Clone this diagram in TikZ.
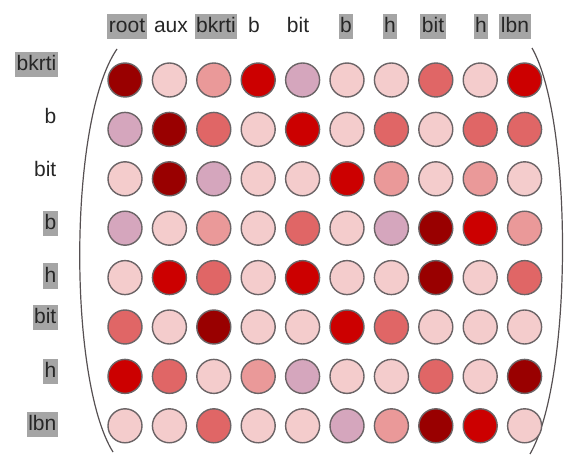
\documentclass[tikz,border=0pt]{standalone}
\usepackage{fontspec}
\setmainfont{Liberation Sans}

\definecolor{dk}{HTML}{990000}
\definecolor{rd}{HTML}{CC0000}
\definecolor{md}{HTML}{E06666}
\definecolor{pk}{HTML}{EA9999}
\definecolor{lt}{HTML}{F4CCCC}
\definecolor{vi}{HTML}{D5A6BD}
\definecolor{hlgray}{HTML}{A5A5A5}
\definecolor{dotline}{HTML}{6B6466}

\begin{document}
\begin{tikzpicture}
  [x=1pt,y=-1pt,
   dot/.style={circle,draw=dotline,line width=1.4pt,minimum size=34pt,inner sep=0pt},
   lab/.style={font=\fontsize{21}{25}\selectfont,text=black!85,inner sep=1.5pt,text height=17pt,text depth=5pt},
   hl/.style={lab,fill=hlgray}]

  \useasboundingbox (0,0) rectangle (565,457);

  % column labels
  \node[hl]  (col1)  at (127,26.5) {root};
  \node[lab] (col2)  at (171,26.5) {aux};
  \node[hl]  (col3)  at (216,26.5) {bkrti};
  \node[lab] (col4)  at (254,26.5) {b};
  \node[lab] (col5)  at (298,26.5) {bit};
  \node[hl]  (col6)  at (346,26.5) {b};
  \node[hl]  (col7)  at (390,26.5) {h};
  \node[hl]  (col8)  at (433,26.5) {bit};
  \node[hl]  (col9)  at (481,26.5) {h};
  \node[hl]  (col10) at (515,26.5) {lbn};

  % row labels
  \node[hl,anchor=east]  (row1) at (58,65)  {bkrti};
  \node[lab,anchor=east] (row2) at (58,118) {b};
  \node[lab,anchor=east] (row3) at (58,171) {bit};
  \node[hl,anchor=east]  (row4) at (58,224) {b};
  \node[hl,anchor=east]  (row5) at (58,276) {h};
  \node[hl,anchor=east]  (row6) at (58,317) {bit};
  \node[hl,anchor=east]  (row7) at (58,371) {h};
  \node[hl,anchor=east]  (row8) at (58,424) {lbn};

  % brackets
  \draw[dotline!80!black,line width=1.2pt] (117,49) .. controls (68,120) and (68,380) .. (113,452);
  \draw[dotline!80!black,line width=1.2pt] (532,48) .. controls (573,120) and (573,380) .. (530,454);

  % matrix
  \foreach \cols [count=\r] in {
      {dk,lt,pk,rd,vi,lt,lt,md,lt,rd},
      {vi,dk,md,lt,rd,lt,md,lt,md,md},
      {lt,dk,vi,lt,lt,rd,pk,lt,pk,lt},
      {vi,lt,pk,lt,md,lt,vi,dk,rd,pk},
      {lt,rd,md,lt,rd,lt,lt,dk,lt,md},
      {md,lt,dk,lt,lt,rd,md,lt,lt,lt},
      {rd,md,lt,pk,vi,lt,lt,md,lt,dk},
      {lt,lt,md,lt,lt,vi,pk,dk,rd,lt}}
    \foreach \c [count=\k] in \cols
      \node[dot,fill=\c] (c\r-\k) at ({125+44.4*(\k-1)},{80+49.4*(\r-1)}) {};

\end{tikzpicture}
\end{document}
